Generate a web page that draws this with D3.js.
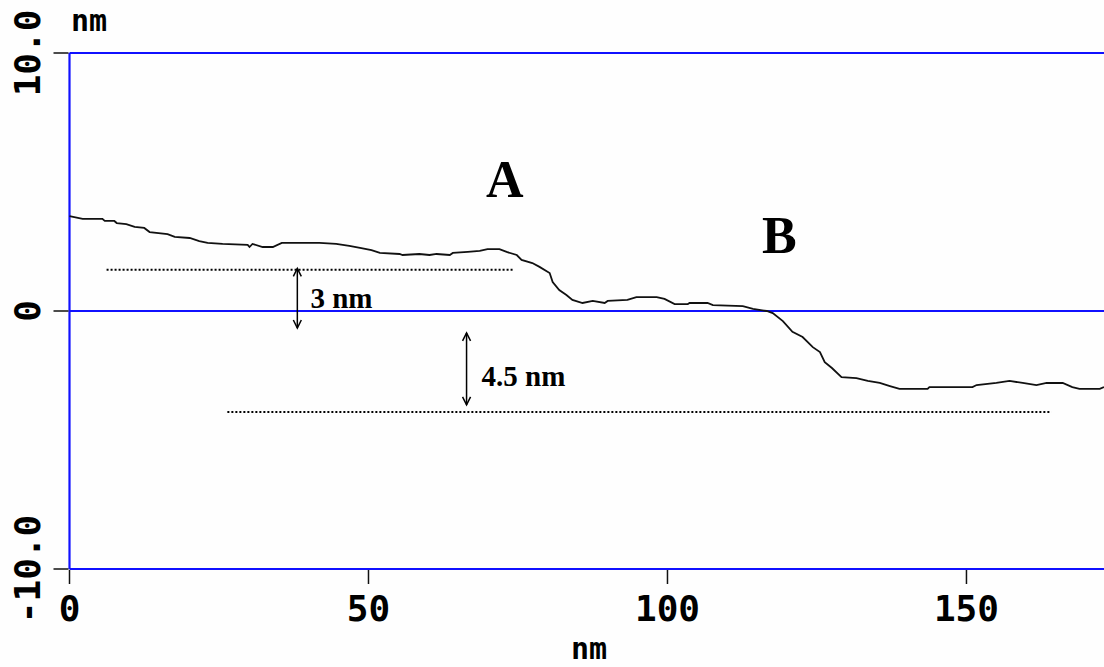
<!DOCTYPE html>
<html>
<head>
<meta charset="utf-8">
<script src="https://cdn.jsdelivr.net/npm/d3@7"></script>
<style>
  html, body { margin: 0; padding: 0; background: #fefefe; }
  svg { display: block; }
  .mono { font-family: "DejaVu Sans Mono", monospace; font-weight: bold; font-size: 36px; fill: #000; }
  .unit { font-family: "DejaVu Sans Mono", monospace; font-weight: bold; font-size: 30px; fill: #000; }
  .serif { font-family: "Liberation Serif", "Times New Roman", serif; font-weight: bold; fill: #000; }
</style>
</head>
<body>
<script>
// Height profile along the scan line (nm vs nm)
const profileX = [0, 2.2, 5.5, 5.9, 7.5, 7.9, 9.5, 10.9, 12.5, 13.4, 16.4, 17.6, 20.1, 21.7, 23.1, 25.6,
  29.8, 30.1, 30.6, 32.3, 34.0, 35.5, 38.0, 40.1, 41.8, 44.6, 46.8, 48.8, 50.5, 51.9, 55.2, 55.7,
  58.5, 60.2, 61.4, 63.6, 64.1, 66.6, 68.6, 69.9, 71.9, 73.1, 74.8, 75.6, 77.4, 78.6, 80.3, 80.8,
  81.9, 83.1, 84.1, 85.8, 87.5, 89.5, 90.0, 93.3, 94.8, 98.2, 99.5, 101.2, 103.4, 103.7, 106.7, 107.6,
  112.6, 114.3, 116.6, 117.6, 119.3, 120.9, 122.6, 124.3, 125.5, 126.3, 127.5, 129.1, 131.6, 133.5,
  135.5, 137.2, 138.8, 143.5, 143.8, 151.0, 151.7, 155.0, 157.2, 159.4, 161.7, 163.4, 166.1, 167.7,
  168.9, 172.3, 173.0];
const profileY = [3.68, 3.57, 3.57, 3.49, 3.49, 3.41, 3.37, 3.26, 3.22, 3.06, 2.98, 2.87, 2.83, 2.71, 2.64, 2.60,
  2.56, 2.48, 2.60, 2.48, 2.48, 2.64, 2.64, 2.64, 2.64, 2.60, 2.52, 2.44, 2.36, 2.25, 2.21, 2.17,
  2.21, 2.17, 2.21, 2.17, 2.25, 2.29, 2.33, 2.40, 2.40, 2.29, 2.17, 1.98, 1.86, 1.71, 1.47, 1.12,
  0.81, 0.62, 0.43, 0.31, 0.39, 0.31, 0.39, 0.43, 0.54, 0.54, 0.47, 0.27, 0.27, 0.31, 0.31, 0.23,
  0.19, 0.08, 0.00, -0.08, -0.39, -0.81, -1.01, -1.40, -1.59, -1.98, -2.21, -2.56, -2.60, -2.71,
  -2.79, -2.91, -3.02, -3.02, -2.95, -2.95, -2.87, -2.79, -2.71, -2.79, -2.87, -2.79, -2.79, -2.95,
  -3.02, -3.02, -2.95];

const xTicks = [0, 50, 100, 150];
const xTickLabels = ["0", "50", "100", "150"];
const yTicks = [-10, 0, 10];
const yTickLabels = ["-10.0", "0", "10.0"];
const unitLabel = "nm";

// Step-height guides (dotted levels) and their measurement arrows
const levelStart = [6.2, 26.4];
const levelEnd = [74.4, 164.2];
const levelValue = [1.6, -3.91];
const arrowX = [38.1, 66.4];
const arrowTop = [1.65, -0.85];
const arrowBottom = [-0.66, -3.64];
const stepLabels = ["3 nm", "4.5 nm"];
const stepLabelX = [40.3, 68.9];
const stepLabelY = [0.12, -2.9];

// Terrace labels
const terraceNames = ["A", "B"];
const terraceX = [72.8, 118.7];
const terraceY = [4.42, 2.25];

const W = 1104, H = 667;
const svg = d3.select("body").append("svg").attr("width", W).attr("height", H);

const x = d3.scaleLinear().domain([0, 173]).range([69.5, 1104]);
const y = d3.scaleLinear().domain([-10, 10]).range([569, 53]);

const blue = "#1010ff";

// Frame: blue horizontal lines at the y ticks and the left edge
svg.append("g").selectAll("line").data(yTicks).join("line")
  .attr("x1", x(0)).attr("x2", W)
  .attr("y1", d => y(d)).attr("y2", d => y(d))
  .attr("stroke", blue).attr("stroke-width", 2.2);
svg.append("line")
  .attr("x1", x(0)).attr("x2", x(0))
  .attr("y1", y(10)).attr("y2", y(-10))
  .attr("stroke", blue).attr("stroke-width", 2.2);

// Y ticks with rotated labels
const yAxis = svg.append("g");
yAxis.selectAll("line").data(yTicks).join("line")
  .attr("x1", x(0) - 16).attr("x2", x(0) - 1)
  .attr("y1", d => y(d)).attr("y2", d => y(d))
  .attr("stroke", "#111").attr("stroke-width", 1.5);
yAxis.selectAll("text").data(yTicks).join("text")
  .attr("class", "mono")
  .attr("text-anchor", "middle")
  .attr("transform", d => `translate(40,${y(d)}) rotate(-90)`)
  .text((d, i) => yTickLabels[i]);

// X ticks and labels
const xAxis = svg.append("g");
xAxis.selectAll("line").data(xTicks).join("line")
  .attr("x1", d => x(d)).attr("x2", d => x(d))
  .attr("y1", y(-10) + 1).attr("y2", y(-10) + 15)
  .attr("stroke", "#111").attr("stroke-width", 1.5);
xAxis.selectAll("text").data(xTicks).join("text")
  .attr("class", "mono")
  .attr("text-anchor", "middle")
  .attr("x", d => x(d)).attr("y", 621)
  .text((d, i) => xTickLabels[i]);

// Unit labels
svg.append("text").attr("class", "unit").attr("x", 71).attr("y", 31).text(unitLabel);
svg.append("text").attr("class", "unit").attr("text-anchor", "middle")
  .attr("x", 589).attr("y", 659).text(unitLabel);

// Profile curve
const pts = profileX.map((v, i) => [v, profileY[i]]);
svg.append("path")
  .datum(pts)
  .attr("fill", "none")
  .attr("stroke", "#111")
  .attr("stroke-width", 1.8)
  .attr("d", d3.line().x(d => x(d[0])).y(d => y(d[1])));

// Dotted level guides
svg.append("g").selectAll("line").data(levelValue).join("line")
  .attr("x1", (d, i) => x(levelStart[i])).attr("x2", (d, i) => x(levelEnd[i]))
  .attr("y1", d => y(d)).attr("y2", d => y(d))
  .attr("stroke", "#000").attr("stroke-width", 2)
  .attr("stroke-dasharray", "2,2");

// Double-headed arrows
const arrows = svg.append("g").attr("stroke", "#000").attr("fill", "none").attr("stroke-width", 1.5);
arrowX.forEach((ax, i) => {
  const px = x(ax), t = y(arrowTop[i]), b = y(arrowBottom[i]);
  arrows.append("line").attr("x1", px).attr("x2", px).attr("y1", t).attr("y2", b);
  arrows.append("path").attr("d", `M${px - 4},${t + 8}L${px},${t}L${px + 4},${t + 8}`);
  arrows.append("path").attr("d", `M${px - 4},${b - 8}L${px},${b}L${px + 4},${b - 8}`);
});

// Step-height labels
svg.append("g").selectAll("text").data(stepLabels).join("text")
  .attr("class", "serif").attr("font-size", 29)
  .attr("x", (d, i) => x(stepLabelX[i])).attr("y", (d, i) => y(stepLabelY[i]))
  .text(d => d);

// Terrace labels
svg.append("g").selectAll("text").data(terraceNames).join("text")
  .attr("class", "serif").attr("font-size", 52).attr("text-anchor", "middle")
  .attr("x", (d, i) => x(terraceX[i])).attr("y", (d, i) => y(terraceY[i]))
  .text(d => d);
</script>
</body>
</html>
